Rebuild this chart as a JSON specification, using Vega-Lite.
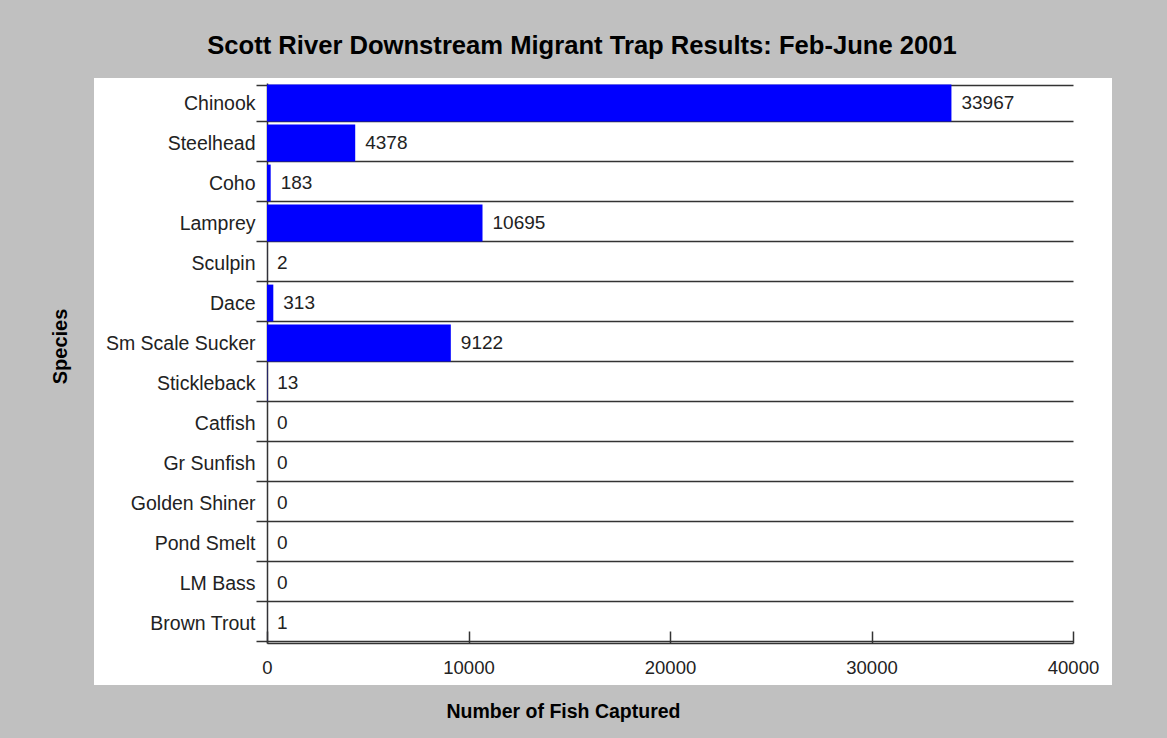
{
  "$schema": "https://vega.github.io/schema/vega-lite/v6.json",
  "width": 1018,
  "height": 607,
  "autosize": {"type": "none"},
  "padding": {"left": 94, "top": 78, "right": 55, "bottom": 53},
  "background": "#c0c0c0",
  "config": {"view": {"fill": "white", "stroke": null}, "font": "Liberation Sans"},
  "title": {
    "text": "Scott River Downstream Migrant Trap Results: Feb-June 2001",
    "fontSize": 25.6,
    "fontWeight": "bold",
    "font": "Liberation Sans",
    "color": "black",
    "anchor": "middle",
    "dx": -21,
    "baseline": "alphabetic",
    "offset": -12
  },
  "data": {
    "values": [
      {"species": "Chinook", "count": 33967},
      {"species": "Steelhead", "count": 4378},
      {"species": "Coho", "count": 183},
      {"species": "Lamprey", "count": 10695},
      {"species": "Sculpin", "count": 2},
      {"species": "Dace", "count": 313},
      {"species": "Sm Scale Sucker", "count": 9122},
      {"species": "Stickleback", "count": 13},
      {"species": "Catfish", "count": 0},
      {"species": "Gr Sunfish", "count": 0},
      {"species": "Golden Shiner", "count": 0},
      {"species": "Pond Smelt", "count": 0},
      {"species": "LM Bass", "count": 0},
      {"species": "Brown Trout", "count": 1}
    ]
  },
  "encoding": {
    "y": {
      "field": "species",
      "type": "nominal",
      "sort": null,
      "scale": {"range": [5, 565], "paddingInner": 0.08},
      "axis": {
        "title": "Species",
        "offset": -173,
        "tickBand": "extent",
        "grid": true,
        "gridColor": "#333",
        "gridWidth": 1.5,
        "domainColor": "#333",
        "domainWidth": 1.5,
        "tickColor": "#333",
        "tickWidth": 1.5,
        "tickSize": 11,
        "labelPadding": 1,
        "labelFontSize": 19.5,
        "labelColor": "#222",
        "labelFont": "Liberation Sans",
        "labelLimit": 300,
        "titleFont": "Liberation Sans",
        "titleFontSize": 20,
        "titleFontWeight": "bold",
        "titleColor": "black",
        "titleX": -207,
        "titleY": 268,
        "titleAngle": -90,
        "titleAlign": "center",
        "titleBaseline": "middle"
      }
    },
    "x": {
      "field": "count",
      "type": "quantitative",
      "scale": {"domain": [0, 40000], "range": [173, 979], "nice": false},
      "axis": {
        "title": "Number of Fish Captured",
        "offset": -42,
        "values": [0, 10000, 20000, 30000, 40000],
        "format": "d",
        "grid": false,
        "tickSize": -12,
        "tickColor": "#333",
        "tickWidth": 1.5,
        "domainColor": "#333",
        "domainWidth": 1.5,
        "labelPadding": 27,
        "labelFontSize": 18.5,
        "labelColor": "#222",
        "labelFont": "Liberation Sans",
        "labelFlush": false,
        "titleFont": "Liberation Sans",
        "titleFontSize": 19.5,
        "titleFontWeight": "bold",
        "titleColor": "black",
        "titleX": 469,
        "titleY": 74,
        "titleAlign": "center",
        "titleBaseline": "alphabetic"
      }
    }
  },
  "layer": [
    {"mark": {"type": "bar", "color": "#0000ff"}},
    {
      "mark": {"type": "text", "align": "left", "dx": 10, "baseline": "middle", "fontSize": 19, "color": "#222", "font": "Liberation Sans"},
      "encoding": {"text": {"field": "count", "type": "quantitative", "format": "d"}}
    }
  ]
}
